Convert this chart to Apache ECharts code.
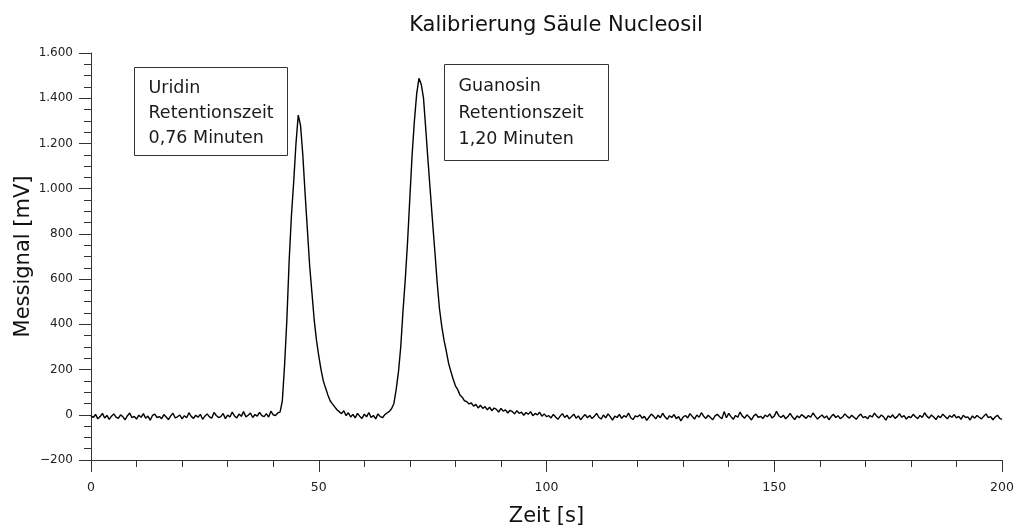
<!DOCTYPE html>
<html>
<head>
<meta charset="utf-8">
<script src="https://cdn.jsdelivr.net/npm/echarts@6/dist/echarts.min.js"></script>
<style>
  html, body { margin: 0; padding: 0; background: #fff; }
  #chart { width: 1014px; height: 529px; }
</style>
</head>
<body>
<div id="chart"></div>
<script>
// Detector signal [mV], sampled every 0.5 s starting at 0 s
const sampleStart = 0;
const sampleStep = 0.5;

// 0.0 s – 40.5 s: baseline before the first peak
const baselineStart = [-5,-12,2,-18,-8,6,-14,-3,-20,-6,4,-10,-16,0,-9,-22,-4,8,-13,-7,
  -19,-2,-11,5,-15,-6,-24,-3,3,-12,-8,-17,1,-10,-21,-5,7,-14,-9,-1,
  -18,-4,-13,9,-7,-16,-2,-11,2,-20,-6,4,-9,-15,10,-3,-12,-8,6,-17,
  -1,-10,12,-5,-14,3,-7,14,-9,-2,8,-12,1,-6,11,-4,-8,5,-10,16,0,-3];

// 41.0 s – 54.0 s: Uridin peak
const peakUridin = [8,12,60,220,420,680,880,1030,1200,1325,1280,1150,980,820,660,540,
  420,330,260,200,150,118,88,62,48,35,22];

// 54.5 s – 65.0 s: baseline between the peaks
const baselineBetween = [14,5,18,-4,9,-10,2,-14,6,-6,-16,3,-9,10,-12,-3,-18,4,-8,-13,1,8];

// 65.5 s – 83.0 s: Guanosin peak
const peakGuanosin = [15,28,50,112,190,300,460,600,765,960,1150,1300,1420,1488,1462,1400,
  1262,1120,985,850,720,585,470,392,330,282,228,192,158,128,112,88,78,62,58,48];

// 83.5 s – 100.0 s: tail of the Guanosin peak
const tailGuanosin = [52,38,46,30,42,28,36,22,34,18,30,24,12,28,16,22,8,20,14,4,
  18,6,12,-2,10,2,14,-4,6,0,11,-6,4,-8];

// 100.5 s – 200.0 s: baseline after the peaks
const baselineEnd = [
  -4,-14,2,-10,-20,-6,5,-12,-2,-18,-8,3,-15,-5,-22,-9,1,-13,-3,-17,
  -7,6,-11,-19,-1,-14,4,-8,-24,-6,-12,2,-16,-4,-10,8,-13,-21,-5,-9,
  0,-15,-7,-25,-11,3,-6,-18,-2,-13,7,-9,-20,-4,-12,1,-17,-8,-27,-10,
  -3,-14,5,-7,-19,-1,-11,9,-6,-16,-2,-12,-22,-5,2,-9,-18,14,-13,6,
  -8,-20,-3,-11,12,-6,-15,0,-10,-23,-5,3,-12,-7,-17,-1,-9,4,-14,-6,
  15,-4,-12,-2,-18,-8,6,-10,-21,-5,-13,1,-7,-16,-3,-11,8,-6,-19,-9,
  -1,-14,-5,-22,-8,2,-12,-4,-17,-10,4,-7,-15,-2,-11,-20,-6,3,-13,-8,
  -18,-3,-10,7,-6,-14,-1,-9,-24,-5,-12,0,-16,-8,5,-11,-4,-19,-7,-13,
  2,-9,-17,-3,-12,9,-6,-15,-1,-10,-21,-5,-13,3,-8,-18,-4,-11,1,-14,
  -7,-20,-2,-12,-9,-23,-5,-15,-3,-11,-18,-6,4,-13,-8,-22,-10,-2,-16,-20];

const xTicks = [0, 50, 100, 150, 200];
const yTicks = [-200, 0, 200, 400, 600, 800, 1000, 1200, 1400, 1600];

const annotations = [
  ['Uridin', 'Retentionszeit', '0,76 Minuten'],
  ['Guanosin', 'Retentionszeit', '1,20 Minuten']
];

const signal = [].concat(baselineStart, peakUridin, baselineBetween,
  peakGuanosin, tailGuanosin, baselineEnd);
const seriesData = signal.map((v, i) => [sampleStart + i * sampleStep, v]);

// German number format: thousands separated with a dot
function formatDe(v) {
  const s = String(Math.abs(v));
  const grouped = s.replace(/\B(?=(\d{3})+(?!\d))/g, '.');
  return (v < 0 ? '\u2212' : '') + grouped;
}

const FONT = 'DejaVu Sans';
const chart = echarts.init(document.getElementById('chart'), null, { renderer: 'canvas' });

const boxStyle = { fill: '#fff', stroke: '#333', lineWidth: 1 };
function boxText(lines, lh) {
  return { text: lines.join('\n'), fill: '#1a1a1a', font: '17.5px "' + FONT + '"', lineHeight: lh };
}

chart.setOption({
  animation: false,
  backgroundColor: '#fff',
  title: {
    text: 'Kalibrierung Säule Nucleosil',
    left: 551, top: 10, textAlign: 'center',
    textStyle: { fontFamily: FONT, fontSize: 21, fontWeight: 'normal', color: '#111' }
  },
  grid: { left: 91, right: 12, top: 53, bottom: 69, containLabel: false, outerBoundsMode: 'none' },
  xAxis: {
    type: 'value',
    min: xTicks[0], max: xTicks[xTicks.length - 1], interval: 50,
    name: 'Zeit [s]', nameLocation: 'middle', nameGap: 46,
    nameTextStyle: { fontFamily: FONT, fontSize: 21, color: '#111' },
    axisLine: { onZero: false, lineStyle: { color: '#333', width: 1 } },
    axisTick: { show: true, inside: false, length: 12, lineStyle: { color: '#333' } },
    minorTick: { show: true, splitNumber: 5, length: 7, lineStyle: { color: '#333' } },
    splitLine: { show: false },
    axisLabel: { fontFamily: FONT, fontSize: 12.5, color: '#222', margin: 21,
      formatter: v => formatDe(v) }
  },
  yAxis: {
    type: 'value',
    min: yTicks[0], max: yTicks[yTicks.length - 1], interval: 200,
    name: 'Messignal [mV]', nameLocation: 'middle', nameGap: 57, nameRotate: 90,
    nameMoveOverlap: false,
    nameTextStyle: { fontFamily: FONT, fontSize: 21, color: '#111' },
    axisLine: { show: true, onZero: false, lineStyle: { color: '#333', width: 1 } },
    axisTick: { show: true, inside: false, length: 12, lineStyle: { color: '#333' } },
    minorTick: { show: true, splitNumber: 4, length: 7, lineStyle: { color: '#333' } },
    splitLine: { show: false },
    axisLabel: { fontFamily: FONT, fontSize: 12, color: '#222', margin: 18,
      formatter: v => formatDe(v) }
  },
  series: [{
    type: 'line',
    data: seriesData,
    showSymbol: false,
    symbol: 'none',
    lineStyle: { color: '#000', width: 1.4 },
    silent: true
  }],
  graphic: [
    { type: 'group', left: 134, top: 67, children: [
      { type: 'rect', shape: { x: 0, y: 0, width: 153, height: 88 }, style: boxStyle },
      { type: 'text', x: 14, y: 8, style: boxText(annotations[0], 25) }
    ]},
    { type: 'group', left: 444, top: 64, children: [
      { type: 'rect', shape: { x: 0, y: 0, width: 164, height: 96 }, style: boxStyle },
      { type: 'text', x: 14, y: 9, style: boxText(annotations[1], 26.5) }
    ]}
  ]
});
</script>
</body>
</html>
